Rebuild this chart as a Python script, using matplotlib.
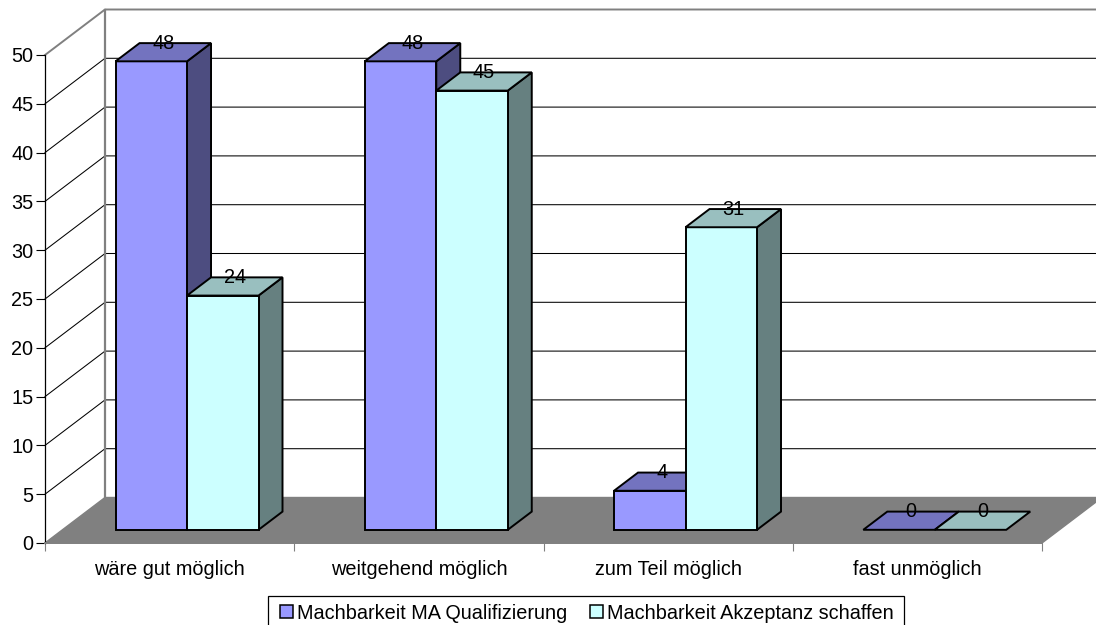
import matplotlib
matplotlib.use("Agg")
import matplotlib.pyplot as plt
from matplotlib.patches import Polygon, Rectangle

plt.rcParams["font.family"] = ["Liberation Sans", "DejaVu Sans"]

categories = ["wäre gut möglich", "weitgehend möglich", "zum Teil möglich", "fast unmöglich"]
series_names = ["Machbarkeit MA Qualifizierung", "Machbarkeit Akzeptanz schaffen"]
qualifizierung = [48, 48, 4, 0]
akzeptanz = [24, 45, 31, 0]
y_ticks = [0, 5, 10, 15, 20, 25, 30, 35, 40, 45, 50]

# face colours per series: front, top, side
face_colors = [("#9999FF", "#7373BF", "#4D4D80"), ("#CCFFFF", "#99BFBF", "#668080")]
WALL = "#808080"
FONT = 14.3
W, H = 1096, 625

# depth vector of the oblique view, in data units
DEPTH_X = 60 / 249.25
DEPTH_Y = 45.5 / 9.76
BAR_W = 0.2868
GAP = 0.2132
D_NEAR = 0.29
D_FAR = 0.69


def proj(x, v, d):
    """Shift a point (category position, value) back by depth d."""
    return (x + d * DEPTH_X, v + d * DEPTH_Y)


fig = plt.figure(figsize=(W / 100, H / 100), dpi=100)
ax = fig.add_axes([45 / W, (H - 543) / H, 997 / W, 488 / H])
ax.set_xlim(0, 4)
ax.set_ylim(0, 50)


def face(points, color, edge="black", lw=1.4, z=3):
    ax.add_patch(Polygon(points, closed=True, facecolor=color, edgecolor=edge,
                         linewidth=lw, clip_on=False, zorder=z, joinstyle="miter"))


def legend_box(x0, y0, x1, y1, color, lw):
    """Rectangle given in pixels from the top left of the figure."""
    fig.add_artist(Rectangle((x0 / W, 1 - y1 / H), (x1 - x0) / W, (y1 - y0) / H,
                             transform=fig.transFigure, facecolor=color, edgecolor="black",
                             linewidth=lw))


# gridlines run along the left wall and then across the back wall
for v in y_ticks[1:-1]:
    ax.plot([0, proj(0, v, 1)[0], proj(4.2, v, 1)[0]], [v, v + DEPTH_Y, v + DEPTH_Y],
            color="black", lw=0.75, clip_on=False, zorder=1, snap=False)

# wall outline
ax.plot([0, proj(0, 50, 1)[0], proj(4.2, 50, 1)[0]], [50, 50 + DEPTH_Y, 50 + DEPTH_Y],
        color=WALL, lw=1.4, clip_on=False, zorder=1.2)
ax.plot([proj(0, 0, 1)[0]] * 2, [DEPTH_Y, 50 + DEPTH_Y],
        color=WALL, lw=1.6, clip_on=False, zorder=1.2)

# floor
face([proj(0, 0, 0), proj(4, 0, 0), proj(4, 0, 1), proj(0, 0, 1)], WALL, edge=WALL, lw=1.0, z=1.5)

# bars, back faces are never visible so top and side are enough
for s, values in enumerate([qualifizierung, akzeptanz]):
    front, top, side = face_colors[s]
    for i, v in enumerate(values):
        x0 = i + GAP + s * BAR_W
        x1 = x0 + BAR_W
        if v > 0:
            face([proj(x1, 0, D_NEAR), proj(x1, 0, D_FAR), proj(x1, v, D_FAR), proj(x1, v, D_NEAR)],
                 side, z=3 + s)
            face([proj(x0, 0, D_NEAR), proj(x1, 0, D_NEAR), proj(x1, v, D_NEAR), proj(x0, v, D_NEAR)],
                 front, z=3 + s)
        face([proj(x0, v, D_NEAR), proj(x1, v, D_NEAR), proj(x1, v, D_FAR), proj(x0, v, D_FAR)],
             top, z=3 + s)
        # value label sits over the back edge of the top face, mid depth sideways
        lx = proj((x0 + x1) / 2, v, (D_NEAR + D_FAR) / 2)[0]
        ly = proj((x0 + x1) / 2, v, D_FAR)[1]
        ax.text(lx, ly, str(v), ha="center", va="center", fontsize=FONT, color="black", zorder=8)

ax.set_yticks(y_ticks)
ax.set_xticks([0, 1, 2, 3, 4])
ax.set_xticklabels([])
ax.set_xticks([0.5, 1.5, 2.5, 3.5], categories, minor=True)
ax.tick_params(axis="y", length=6.5, width=0.8, pad=2, labelsize=FONT, color="black")
ax.tick_params(axis="x", which="major", length=6, width=0.8, color=WALL)
ax.tick_params(axis="x", which="minor", length=0, pad=12, labelsize=FONT)
ax.patch.set_visible(False)
for name in ["top", "right"]:
    ax.spines[name].set_visible(False)
ax.spines["left"].set_linewidth(0.9)
ax.spines["bottom"].set_color(WALL)
ax.spines["bottom"].set_linewidth(1.4)

# legend frame runs off the bottom edge of the figure
legend_box(268, 596, 904, 640, "white", 0.9)
for name, colors, box_x, text_x in zip(series_names, face_colors, [280, 590], [297, 607]):
    legend_box(box_x, 605, box_x + 13, 618, colors[0], 1.1)
    fig.text(text_x / W, 1 - 619 / H, name, fontsize=FONT, ha="left", va="baseline")

fig.savefig("out.png", dpi=100)
